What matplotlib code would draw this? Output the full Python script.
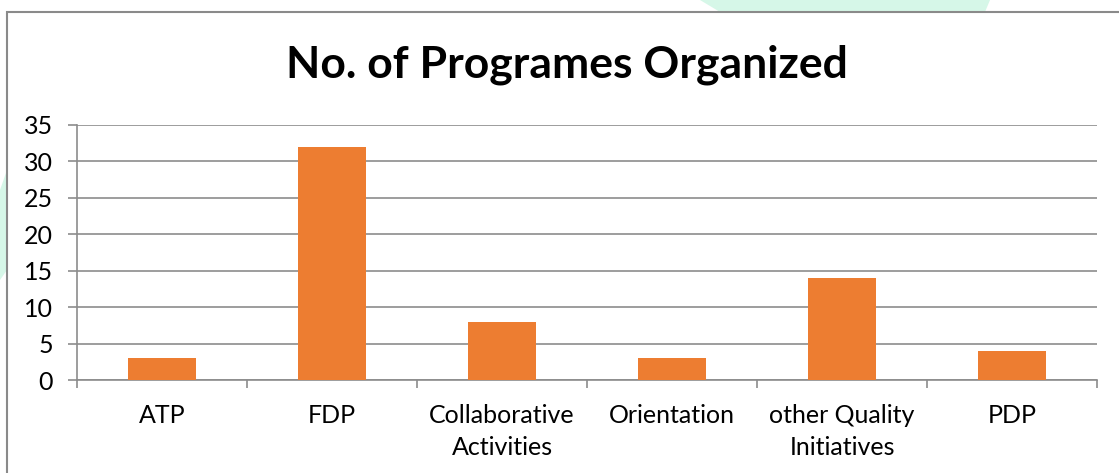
import numpy as np
import matplotlib.pyplot as plt
from matplotlib.patches import Rectangle, Polygon

categories = ["ATP", "FDP", "Collaborative\nActivities", "Orientation",
              "other Quality\nInitiatives", "PDP"]
values = [3, 32, 8, 3, 14, 4]
yticks = [0, 5, 10, 15, 20, 25, 30, 35]

W, H = 1119, 473
fig = plt.figure(figsize=(W / 100, H / 100), dpi=100)
plt.rcParams['font.family'] = ['Lato', 'DejaVu Sans']

# faint watermark shapes behind the chart
fig.patches.append(Polygon([(700 / W, 1), (990 / W, 1), (985 / W, 1 - 12 / H), (720 / W, 1 - 12 / H)],
                           closed=True, transform=fig.transFigure, facecolor='#d6f7e8',
                           edgecolor='none', zorder=0))
fig.patches.append(Polygon([(0, 1 - 190 / H), (7 / W, 1 - 170 / H), (7 / W, 1 - 270 / H), (0, 1 - 280 / H)],
                           closed=True, transform=fig.transFigure, facecolor='#d6f7e8',
                           edgecolor='none', zorder=0))

# chart frame
fig.patches.append(Rectangle((7 / W, -0.05), 1.2, 1 - 12 / H + 0.05, transform=fig.transFigure,
                             facecolor='white', edgecolor='#8a8a8a', linewidth=1.5, zorder=1))

ax = fig.add_axes([77 / W, 1 - 380 / H, (1097 - 77) / W, (380 - 125) / H])
ax.set_zorder(2)
ax.patch.set_alpha(0)

x = np.arange(len(categories))
ax.bar(x, values, width=0.4, color='#ED7D31', zorder=3)

ax.set_xlim(-0.5, len(categories) - 0.5)
ax.set_ylim(0, 35)
ax.set_yticks(yticks)
ax.yaxis.grid(True, color='#8c8c8c', linewidth=1.2, zorder=0)
ax.tick_params(axis='y', length=6.5, width=1.2, color='#8c8c8c', pad=11, labelsize=18)

ax.set_xticks(np.arange(len(categories) + 1) - 0.5)
ax.set_xticklabels([])
ax.set_xticks(x, minor=True)
ax.set_xticklabels(categories, minor=True, fontsize=18, linespacing=1.5)
ax.tick_params(axis='x', which='major', length=6, width=1.2, color='#8c8c8c')
ax.tick_params(axis='x', which='minor', length=0, pad=17)

for side in ['top', 'right']:
    ax.spines[side].set_visible(False)
ax.spines['left'].set_color('#8c8c8c')
ax.spines['left'].set_linewidth(1.2)
ax.spines['bottom'].set_color('#8c8c8c')
ax.spines['bottom'].set_linewidth(1.2)

fig.text(567 / W, 1 - 65 / H, "No. of Programes Organized", ha='center', va='center',
         fontsize=32, fontweight='bold', zorder=3)

fig.savefig("out.png", dpi=100)
